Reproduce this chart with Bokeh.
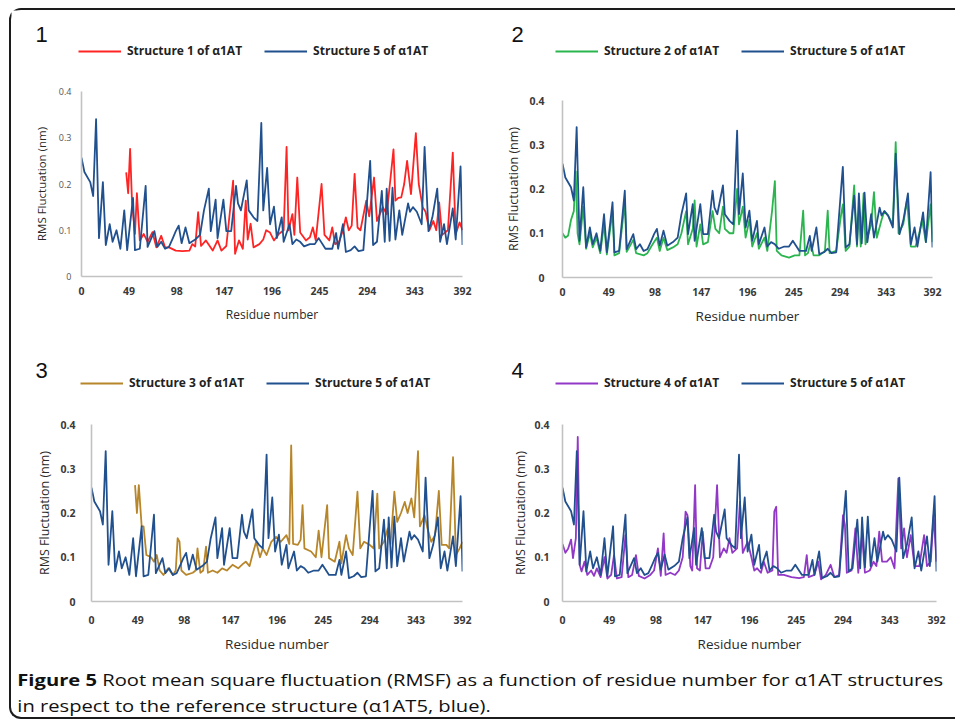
from bokeh.plotting import figure
from bokeh.models import Range1d, FixedTicker, NumeralTickFormatter, Legend, LegendItem, Label, Div
from bokeh.layouts import column, row
from bokeh.embed import file_html
from bokeh.resources import INLINE

# ---------------- data ----------------
X_TICKS = [0, 49, 98, 147, 196, 245, 294, 343, 392]
Y_TICKS = [0, 0.1, 0.2, 0.3, 0.4]

# Structure 5 of a1AT (reference, blue) - residue number / RMSF (nm)
S5_RES = [0, 3, 9, 12, 15, 18, 22, 25, 29, 32, 36, 40, 44, 47, 53, 55, 60, 66, 68, 75, 78, 82, 86, 90, 94, 97,
          100, 103, 107, 111, 117, 122, 126, 131, 133, 138, 140, 146, 149, 154, 159, 161, 164, 170, 172, 177,
          181, 185, 187, 191, 194, 198, 201, 206, 208, 214, 217, 221, 225, 229, 235, 240, 244, 251, 258, 262,
          264, 269, 272, 277, 281, 285, 290, 295, 297, 300, 304, 309, 312, 314, 317, 320, 323, 327, 330, 336,
          338, 341, 345, 350, 353, 357, 361, 366, 369, 373, 376, 382, 385, 390, 392]
S5_RMSF = [0.257, 0.226, 0.204, 0.174, 0.34, 0.083, 0.204, 0.068, 0.113, 0.075, 0.10, 0.06, 0.143, 0.057, 0.17,
           0.057, 0.06, 0.196, 0.064, 0.098, 0.064, 0.075, 0.06, 0.064, 0.083, 0.098, 0.11, 0.072, 0.106, 0.072,
           0.08, 0.09, 0.143, 0.19, 0.098, 0.166, 0.083, 0.166, 0.098, 0.098, 0.196, 0.158, 0.143, 0.208, 0.143,
           0.128, 0.12, 0.332, 0.143, 0.235, 0.113, 0.151, 0.083, 0.128, 0.075, 0.113, 0.07, 0.08, 0.075, 0.065,
           0.07, 0.07, 0.083, 0.06, 0.06, 0.094, 0.06, 0.113, 0.053, 0.057, 0.065, 0.055, 0.057, 0.196, 0.25,
           0.068, 0.075, 0.185, 0.075, 0.19, 0.077, 0.192, 0.08, 0.143, 0.09, 0.158, 0.14, 0.15, 0.14, 0.113,
           0.28, 0.098, 0.128, 0.19, 0.075, 0.113, 0.07, 0.147, 0.08, 0.238, 0.068]

# Structure 1 (red)
S1_RES = [46, 48, 50, 52, 55, 57, 60, 64, 68, 73, 77, 82, 86, 90, 97, 104, 111, 114, 117, 120, 123, 128, 135,
          140, 144, 149, 156, 158, 162, 166, 169, 171, 174, 177, 183, 187, 190, 194, 198, 203, 208, 211, 213,
          217, 219, 222, 225, 231, 235, 238, 241, 247, 250, 255, 258, 261, 265, 269, 272, 275, 278, 281, 284,
          287, 293, 296, 301, 304, 310, 314, 318, 321, 323, 326, 329, 332, 335, 339, 344, 347, 351, 354, 358,
          362, 365, 368, 371, 377, 382, 385, 389, 392]
S1_RMSF = [0.225, 0.18, 0.276, 0.16, 0.092, 0.18, 0.078, 0.092, 0.075, 0.096, 0.063, 0.088, 0.063, 0.063, 0.056,
           0.055, 0.056, 0.07, 0.065, 0.139, 0.066, 0.078, 0.056, 0.078, 0.056, 0.066, 0.207, 0.049, 0.078, 0.06,
           0.164, 0.08, 0.114, 0.063, 0.07, 0.08, 0.1, 0.095, 0.078, 0.092, 0.1, 0.28, 0.1, 0.135, 0.09, 0.214,
           0.095, 0.078, 0.085, 0.106, 0.078, 0.2, 0.09, 0.078, 0.106, 0.07, 0.075, 0.1, 0.128, 0.1, 0.11, 0.222,
           0.106, 0.1, 0.164, 0.13, 0.214, 0.12, 0.15, 0.135, 0.214, 0.275, 0.164, 0.17, 0.171, 0.2, 0.25, 0.178,
           0.31, 0.2, 0.15, 0.14, 0.1, 0.12, 0.1, 0.16, 0.09, 0.1, 0.268, 0.092, 0.117, 0.1]

# Structure 2 (green)
S2_RES = [0, 3, 6, 9, 12, 14, 16, 18, 22, 25, 29, 32, 36, 40, 44, 47, 53, 55, 60, 66, 68, 75, 78, 86, 90, 94, 97,
          100, 103, 107, 111, 117, 122, 126, 131, 133, 138, 140, 142, 146, 149, 154, 159, 162, 166, 170, 172, 177,
          181, 185, 187, 191, 194, 198, 201, 206, 208, 214, 217, 222, 225, 227, 232, 240, 246, 251, 255, 257, 260,
          263, 266, 272, 278, 281, 283, 290, 295, 297, 300, 304, 309, 312, 314, 316, 319, 321, 327, 330, 333, 338,
          341, 345, 350, 353, 356, 361, 365, 369, 374, 378, 381, 385, 390, 392]
S2_RMSF = [0.10, 0.09, 0.095, 0.13, 0.15, 0.24, 0.1, 0.075, 0.16, 0.065, 0.1, 0.068, 0.09, 0.055, 0.12, 0.052,
           0.15, 0.05, 0.055, 0.17, 0.058, 0.085, 0.055, 0.05, 0.055, 0.07, 0.08, 0.09, 0.06, 0.09, 0.062, 0.068,
           0.075, 0.1, 0.15, 0.075, 0.11, 0.174, 0.07, 0.12, 0.075, 0.08, 0.15, 0.11, 0.1, 0.16, 0.11, 0.1, 0.1,
           0.2, 0.12, 0.16, 0.09, 0.13, 0.07, 0.1, 0.065, 0.09, 0.06, 0.15, 0.218, 0.06, 0.05, 0.045, 0.05, 0.05,
           0.151, 0.05, 0.055, 0.08, 0.05, 0.05, 0.06, 0.151, 0.055, 0.06, 0.14, 0.165, 0.06, 0.07, 0.208, 0.07,
           0.15, 0.07, 0.19, 0.075, 0.12, 0.193, 0.09, 0.13, 0.15, 0.14, 0.12, 0.306, 0.1, 0.12, 0.175, 0.07,
           0.07, 0.1, 0.13, 0.08, 0.165, 0.08]

# Structure 3 (gold)
S3_RES = [46, 48, 50, 53, 55, 58, 63, 66, 69, 72, 76, 81, 86, 89, 91, 93, 95, 100, 107, 110, 112, 115, 118, 121,
          123, 128, 133, 138, 143, 149, 155, 160, 163, 167, 170, 174, 178, 181, 185, 190, 195, 200, 206, 209, 211,
          213, 218, 221, 223, 225, 232, 237, 240, 243, 249, 251, 257, 262, 264, 269, 272, 276, 281, 284, 288, 294,
          298, 302, 304, 309, 313, 316, 320, 323, 327, 331, 334, 338, 341, 345, 347, 352, 355, 359, 363, 367, 370,
          375, 378, 382, 385, 389, 392]
S3_RMSF = [0.263, 0.2, 0.263, 0.17, 0.17, 0.105, 0.1, 0.09, 0.105, 0.07, 0.06, 0.075, 0.06, 0.07, 0.143, 0.135,
           0.07, 0.06, 0.065, 0.07, 0.12, 0.065, 0.07, 0.124, 0.065, 0.07, 0.065, 0.075, 0.07, 0.083, 0.075, 0.085,
           0.09, 0.08, 0.105, 0.135, 0.1, 0.12, 0.105, 0.135, 0.146, 0.135, 0.15, 0.13, 0.353, 0.13, 0.128, 0.14,
           0.218, 0.12, 0.113, 0.1, 0.16, 0.1, 0.218, 0.098, 0.09, 0.135, 0.086, 0.15, 0.12, 0.105, 0.248, 0.12,
           0.135, 0.128, 0.12, 0.244, 0.12, 0.135, 0.165, 0.13, 0.248, 0.18, 0.2, 0.225, 0.2, 0.233, 0.19, 0.34,
           0.17, 0.195, 0.165, 0.135, 0.15, 0.25, 0.128, 0.128, 0.12, 0.326, 0.105, 0.12, 0.135]

# Structure 4 (purple)
S4_RES = [0, 3, 6, 9, 11, 14, 16, 18, 20, 23, 26, 30, 33, 36, 40, 44, 47, 51, 54, 57, 62, 66, 69, 73, 77, 80, 86,
          92, 96, 100, 103, 106, 108, 113, 118, 122, 126, 129, 131, 134, 136, 139, 141, 144, 147, 150, 154, 158,
          162, 165, 169, 172, 175, 178, 183, 186, 189, 194, 198, 201, 204, 208, 211, 215, 220, 222, 224, 226, 232,
          240, 248, 253, 256, 258, 264, 268, 271, 276, 281, 285, 290, 294, 296, 298, 303, 307, 310, 314, 317, 322,
          326, 329, 332, 335, 340, 344, 348, 352, 355, 358, 361, 365, 369, 374, 379, 382, 386, 389, 392]
S4_RMSF = [0.13, 0.11, 0.12, 0.14, 0.098, 0.143, 0.372, 0.083, 0.068, 0.09, 0.06, 0.07, 0.058, 0.075, 0.055, 0.1,
           0.052, 0.06, 0.105, 0.052, 0.055, 0.15, 0.055, 0.06, 0.105, 0.058, 0.052, 0.06, 0.07, 0.12, 0.058,
           0.154, 0.06, 0.065, 0.06, 0.07, 0.1, 0.203, 0.195, 0.08, 0.07, 0.263, 0.075, 0.07, 0.158, 0.075, 0.075,
           0.1, 0.263, 0.1, 0.12, 0.11, 0.143, 0.11, 0.12, 0.225, 0.11, 0.135, 0.1, 0.07, 0.075, 0.065, 0.09,
           0.065, 0.07, 0.203, 0.214, 0.06, 0.06, 0.055, 0.053, 0.055, 0.105, 0.055, 0.06, 0.09, 0.05, 0.06,
           0.083, 0.055, 0.06, 0.195, 0.173, 0.065, 0.07, 0.165, 0.065, 0.15, 0.065, 0.07, 0.09, 0.08, 0.158,
           0.09, 0.09, 0.1, 0.075, 0.278, 0.12, 0.165, 0.1, 0.15, 0.08, 0.08, 0.15, 0.08, 0.09, 0.195, 0.09]

NAMES = ["Structure 1 of α1AT", "Structure 2 of α1AT", "Structure 3 of α1AT", "Structure 4 of α1AT"]
REF_NAME = "Structure 5 of α1AT"

for a, b in [(S5_RES, S5_RMSF), (S1_RES, S1_RMSF), (S2_RES, S2_RMSF), (S3_RES, S3_RMSF), (S4_RES, S4_RMSF)]:
    assert len(a) == len(b), (len(a), len(b))

BLUE = "#21508f"
RED = "#ff2424"
GREEN = "#2bb54f"
GOLD = "#b8862a"
PURPLE = "#9238c6"
AXIS_GRAY = "#c2c2c2"
TXT = "#2a2a2a"


def header(num, res, rmsf, color, name, w, h, num_xy, leg_xy):
    """Panel number and legend, in their own small canvas above each chart.
    The series are attached here only so the legend can show their line styles;
    the y range of this strip lies above the data, so no data line is visible here."""
    p = figure(width=w, height=h, x_range=Range1d(0, 392), y_range=Range1d(1, 2),
               x_axis_type=None, y_axis_type=None, title_location=None, frame_align=False,
               output_backend="svg", toolbar_location=None,
               min_border_left=0, min_border_right=0, min_border_top=0, min_border_bottom=0,
               outline_line_color=None, background_fill_color="white", border_fill_color="white")
    r_other = p.line(res, rmsf, line_color=color, line_width=2)
    r_ref = p.line(S5_RES, S5_RMSF, line_color=BLUE, line_width=2)
    legend = Legend(items=[LegendItem(label=name, renderers=[r_other]),
                           LegendItem(label=REF_NAME, renderers=[r_ref])],
                    orientation="horizontal", location=leg_xy,
                    glyph_width=43, glyph_height=12, label_height=12, label_standoff=6,
                    spacing=22, padding=0, margin=0,
                    label_text_font="Open Sans", label_text_font_size="12px",
                    label_text_font_style="bold", label_text_color="#222222",
                    background_fill_alpha=0, border_line_color=None)
    p.add_layout(legend, "center")
    p.add_layout(Label(x=num_xy[0], y=num_xy[1], x_units="screen", y_units="screen", text=num,
                       text_font="Liberation Sans", text_font_size="22px", text_color="#111111",
                       text_baseline="alphabetic", text_align="left"))
    return p


def panel(res, rmsf, color, w, h, ml, mr, mt, mb, big):
    p = figure(width=w, height=h, x_range=Range1d(0, 392), y_range=Range1d(0, 0.4),
               output_backend="svg", toolbar_location=None, title_location=None, frame_align=False,
               min_border_left=ml, min_border_right=mr, min_border_top=mt, min_border_bottom=mb,
               outline_line_color=None, background_fill_color="white", border_fill_color="white")
    p.xgrid.grid_line_color = None
    p.ygrid.grid_line_color = None

    p.line(res, rmsf, line_color=color, line_width=1.8, line_join="round")
    p.line(S5_RES, S5_RMSF, line_color=BLUE, line_width=1.8, line_join="round")

    xa = p.xaxis[0]
    ya = p.yaxis[0]
    for ax in (xa, ya):
        ax.axis_line_color = AXIS_GRAY
        ax.axis_line_width = 1.6
        ax.major_tick_line_color = None
        ax.minor_tick_line_color = None
        ax.major_tick_out = 0
        ax.major_tick_in = 0
        ax.minor_tick_out = 0
        ax.minor_tick_in = 0
        ax.major_label_text_font = "Open Sans"
        ax.axis_label_text_font = "Open Sans"
        ax.axis_label_text_font_style = "normal"
        ax.axis_label_text_color = TXT
    xa.ticker = FixedTicker(ticks=X_TICKS)
    ya.ticker = FixedTicker(ticks=Y_TICKS)
    ya.formatter = NumeralTickFormatter(format="0.[0]")

    xa.axis_label = "Residue number"
    ya.axis_label = "RMS Fluctuation (nm)"
    xa.major_label_text_font_size = "10.5px"
    xa.major_label_text_font_style = "bold"
    xa.major_label_text_color = "#3a3a3a"
    if big:
        ya.major_label_text_font_size = "10.5px"
        ya.major_label_text_font_style = "bold"
        ya.major_label_text_color = "#3a3a3a"
        xa.axis_label_text_font_size = "13.5px"
        ya.axis_label_text_font_size = "12.5px"
    else:
        ya.major_label_text_font_size = "9px"
        ya.major_label_text_color = "#555555"
        xa.axis_label_text_font_size = "12px"
        ya.axis_label_text_font_size = "11.5px"
    xa.major_label_standoff = big[0] if big else 10
    xa.axis_label_standoff = 8
    ya.major_label_standoff = big[1] if big else 10
    ya.axis_label_standoff = big[2] if big else 7
    return p


h1 = header("1", S1_RES, S1_RMSF, RED, NAMES[0], 467, 52, (24, 28), (67, 3))
h2 = header("2", S2_RES, S2_RMSF, GREEN, NAMES[1], 477, 52, (33, 28), (77, 3))
h3 = header("3", S3_RES, S3_RMSF, GOLD, NAMES[2], 467, 50, (24, 25), (69, 4))
h4 = header("4", S4_RES, S4_RMSF, PURPLE, NAMES[3], 477, 50, (33, 25), (77, 4))

f1 = panel(S1_RES, S1_RMSF, RED, 467, 283, 70, 16, 29, 69, None)
f2 = panel(S2_RES, S2_RMSF, GREEN, 477, 283, 84, 23, 38, 68, (10, 18, 4))
f3 = panel(S3_RES, S3_RMSF, GOLD, 467, 260, 80, 16, 29, 53, (14, 16, 4))
f4 = panel(S4_RES, S4_RMSF, PURPLE, 477, 260, 84, 19, 29, 53, (14, 13, 2))

caption = Div(text=('<div style="font-family:\'Open Sans\',sans-serif;font-size:16px;line-height:26px;'
                    'color:#111;padding:12px 0 0 5px;white-space:nowrap;'
                    'transform:scaleX(1.26);transform-origin:0 0;">'
                    '<b>Figure 5</b> Root mean square fluctuation (RMSF) as a function of residue number '
                    'for α1AT structures<br>in respect to the reference structure (α1AT5, blue).</div>'),
              width=944, height=62, margin=(0, 0, 0, 0), styles={"overflow": "hidden"})

root = column(row(column(h1, f1), column(h2, f2)),
              row(column(h3, f3), column(h4, f4)),
              caption,
              styles={"margin": "8px 0 0 9px", "border": "2px solid #1c1c1c", "border-right": "none",
                      "border-radius": "12px 0 0 12px", "background": "white"})

open("out.html", "w").write(file_html(root, INLINE))
